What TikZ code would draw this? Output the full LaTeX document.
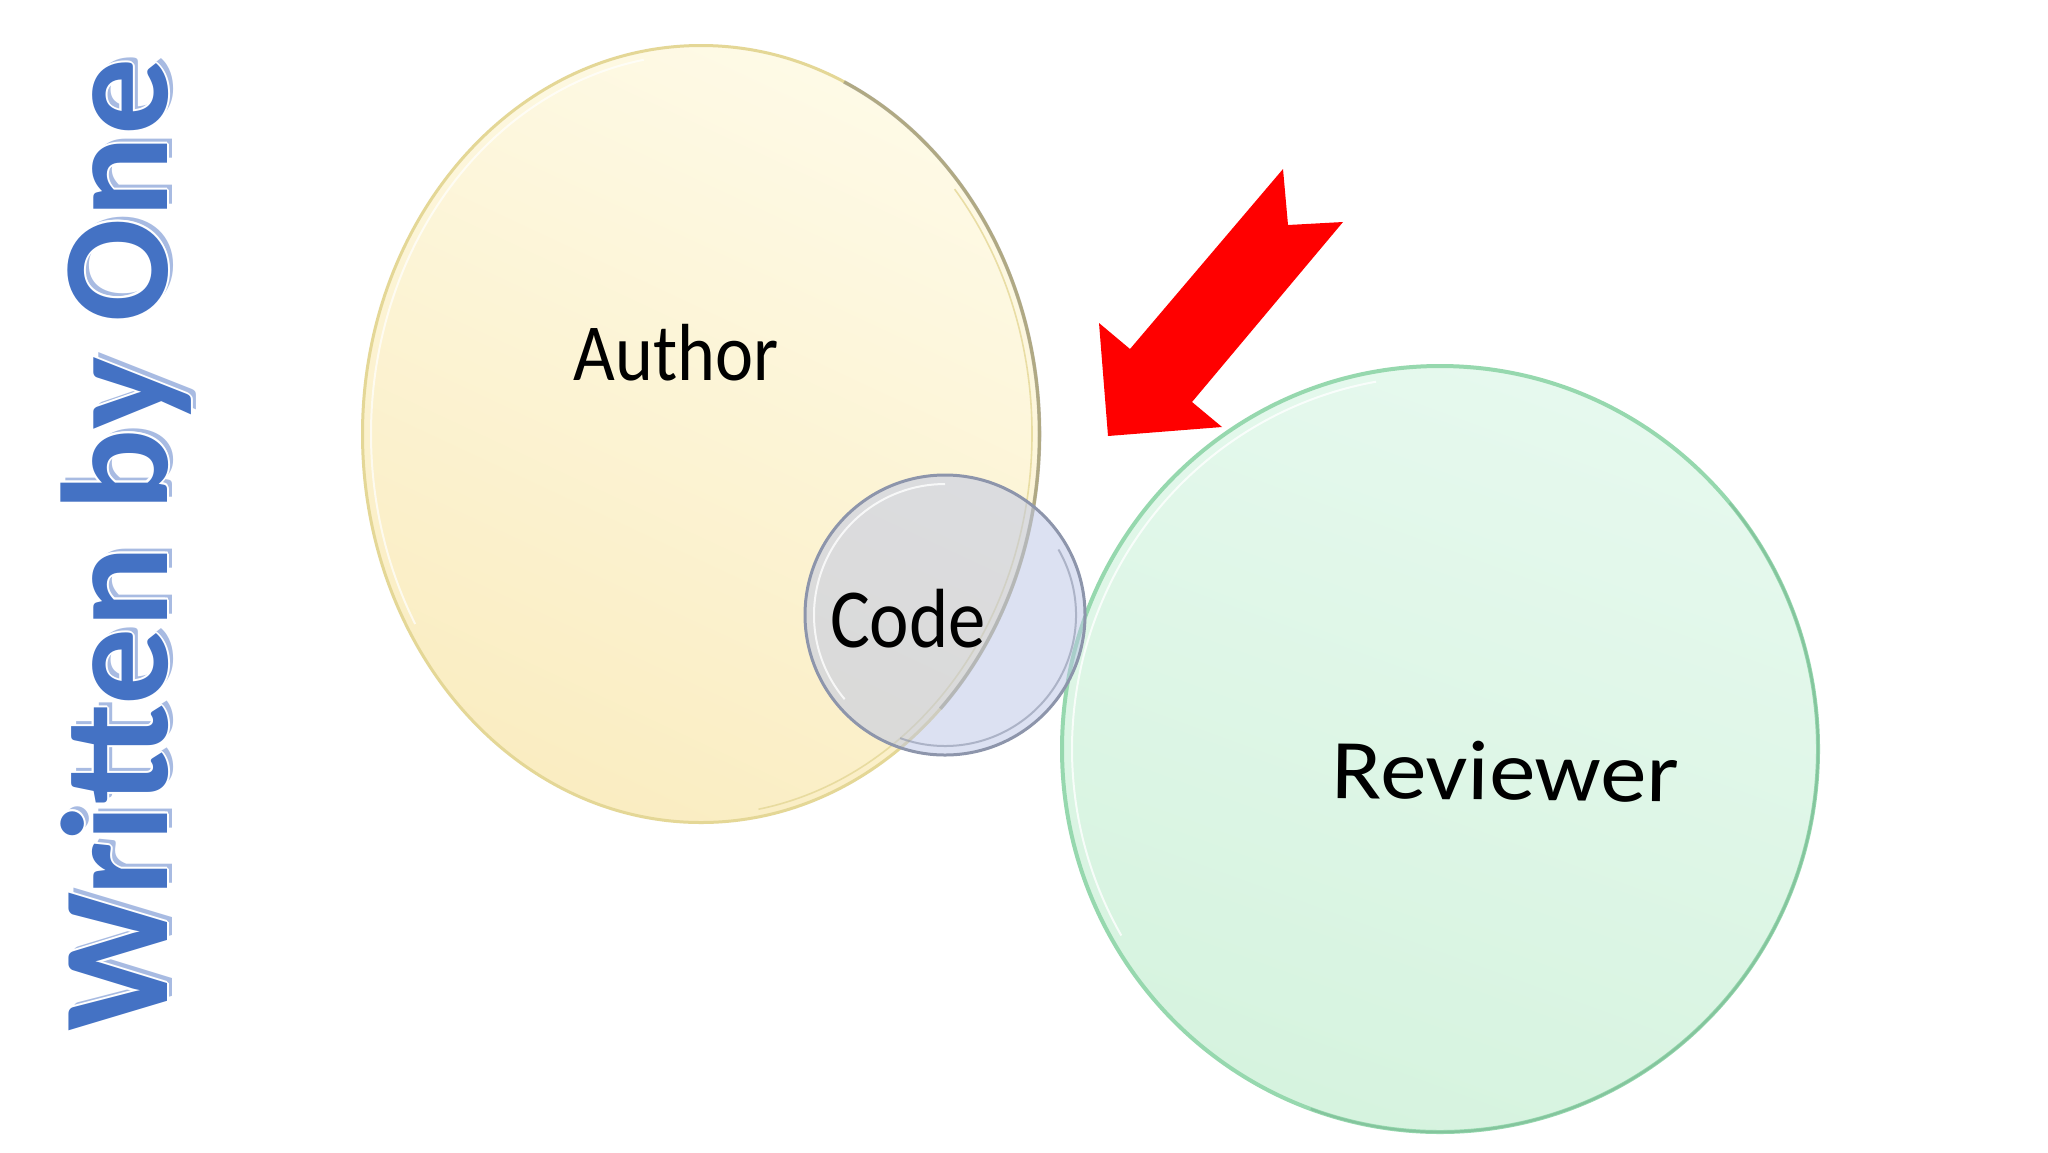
\documentclass[tikz,border=0pt]{standalone}
\usepackage{fontspec}
\setmainfont{Carlito}
\usetikzlibrary{shapes.geometric}
\definecolor{wboblue}{HTML}{4472C4}
\definecolor{wboshade}{HTML}{A8BBE2}
\definecolor{authA}{HTML}{FEFAE6}
\definecolor{authB}{HTML}{FAEDC2}
\definecolor{authrim}{HTML}{E4D796}
\definecolor{authdark}{HTML}{7E7C72}
\definecolor{revA}{HTML}{E6F9EE}
\definecolor{revB}{HTML}{D6F3DF}
\definecolor{revrim}{HTML}{96D8AE}
\definecolor{revdark}{HTML}{6FAF8A}
\definecolor{codefill}{RGB}{187,197,231}
\definecolor{coderim}{HTML}{8D95AB}
\definecolor{arrowred}{HTML}{FF0000}
\tikzset{
  lbl/.style={inner sep=0pt, text=black, anchor=base},
  wbo/.style={inner sep=0pt, anchor=base west, rotate=90, xscale=1.01,
    font=\fontsize{76pt}{80pt}\selectfont\bfseries},
}
\begin{document}
\begin{tikzpicture}[x=0.5pt,y=-0.5pt]
\useasboundingbox (0,0) rectangle (2048,1152);
\fill[white] (0,0) rectangle (2048,1152);

% Author ellipse
\node (author) [ellipse, minimum width=338.5pt, minimum height=388.5pt, inner sep=0pt,
  top color=authA, bottom color=authB, shading angle=-25,
  draw=authrim, line width=1.5pt] at (701,434) {};
\draw[authdark, line width=1.8pt, opacity=0.5]
  ([shift={(-65:338.5 and 388.5)}]701,434) arc[start angle=-65, end angle=45, x radius=338.5, y radius=388.5];
\draw[white, line width=1pt, opacity=0.7]
  ([shift={(150:330 and 380)}]701,434) arc[start angle=150, end angle=260, x radius=330, y radius=380];
\draw[authrim, line width=0.8pt, opacity=0.8]
  ([shift={(-40:331 and 381)}]701,434) arc[start angle=-40, end angle=80, x radius=331, y radius=381];

% Reviewer circle
\node (reviewer) [ellipse, minimum width=378pt, minimum height=383pt, inner sep=0pt,
  top color=revA, bottom color=revB, shading angle=-20,
  draw=revrim, line width=2pt] at (1440,749) {};
\draw[revdark, line width=1.2pt, opacity=0.45]
  ([shift={(-40:378 and 383)}]1440,749) arc[start angle=-40, end angle=110, x radius=378, y radius=383];
\draw[white, line width=1pt, opacity=0.8]
  ([shift={(150:368 and 373)}]1440,749) arc[start angle=150, end angle=260, x radius=368, y radius=373];

% Code circle
\node (code) [circle, minimum size=140pt, inner sep=0pt,
  fill=codefill, fill opacity=0.5, draw=coderim, line width=1.5pt] at (945,615) {};
\draw[white, line width=1pt, opacity=0.8]
  ([shift={(140:131)}]945,615) arc[start angle=140, end angle=270, radius=131];
\draw[coderim, line width=1pt, opacity=0.6]
  ([shift={(-30:131)}]945,615) arc[start angle=-30, end angle=110, radius=131];

% Labels
\node (authorlbl) [lbl, font=\fontsize{40.5pt}{42pt}\selectfont, xscale=0.89] at (676,380) {Author};
\node (codelbl) [lbl, font=\fontsize{42pt}{44pt}\selectfont, xscale=0.89] at (908,647) {Code};
\node (revlbl) [lbl, font=\fontsize{42.5pt}{44pt}\selectfont, xscale=1.09, rotate=-0.7] at (1505,800) {Reviewer};

% Red arrow
\fill[arrowred] (1108,436) -- (1099,323) -- (1130,349) -- (1283,169) -- (1288,225)
  -- (1343,222) -- (1192,402) -- (1222,427) -- cycle;

% Written by One
\node (wboshadow) [wbo, text=wboshade] at (172,1027) {Written by One};
\foreach \dx/\dy [count=\i] in {2/0,-2/0,0/2,0/-2,1.4/1.4,1.4/-1.4,-1.4/1.4,-1.4/-1.4}
  \node (wbooutline\i) [wbo, text=white] at (167+\dx,1032+\dy) {Written by One};
\node (wbotitle) [wbo, text=wboblue] at (167,1032) {Written by One};
\end{tikzpicture}
\end{document}
